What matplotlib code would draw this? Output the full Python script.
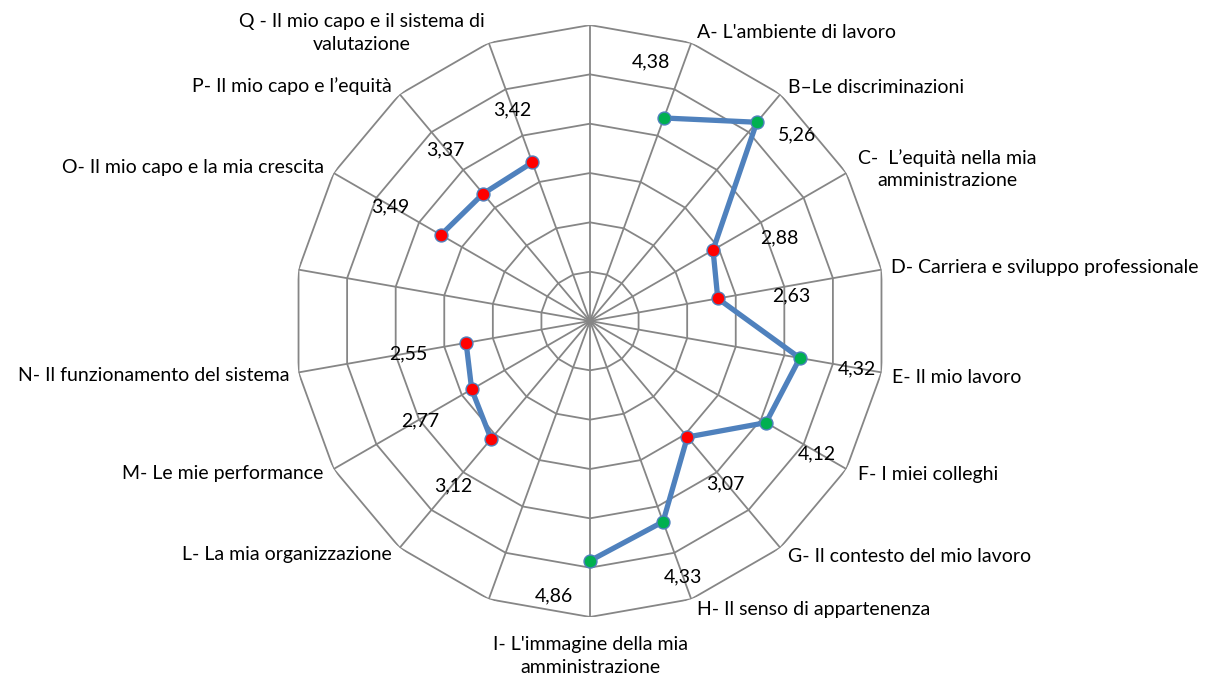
import numpy as np
import matplotlib
matplotlib.use("Agg")
import matplotlib.pyplot as plt

plt.rcParams['font.family'] = ['Lato', 'DejaVu Sans']

# spokes at 20 degree steps; empty slots have no label and no value
categories = ["",
              "A- L'ambiente di lavoro",
              "B–Le discriminazioni",
              "C-  L’equità nella mia\namministrazione",
              "D- Carriera e sviluppo professionale",
              "E- Il mio lavoro",
              "F- I miei colleghi",
              "G- Il contesto del mio lavoro",
              "H- Il senso di appartenenza",
              "I- L'immagine della mia\namministrazione",
              "",
              "L- La mia organizzazione",
              "M- Le mie performance",
              "N- Il funzionamento del sistema",
              "",
              "O- Il mio capo e la mia crescita",
              "P- Il mio capo e l’equità",
              "Q - Il mio capo e il sistema di\nvalutazione"]
values = [np.nan, 4.38, 5.26, 2.88, 2.63, 4.32, 4.12, 3.07, 4.33, 4.86,
          np.nan, 3.12, 2.77, 2.55, np.nan, 3.49, 3.37, 3.42]
rings = [1, 2, 3, 4, 5, 6]
threshold = 4

# where each value label sits, relative to its point (pixels)
value_offsets = [None, (-13, 56), (40, -13), (66, 12), (73, 3), (57, -11), (51, -31),
                 (38, -47), (20, -55), (-36, -35), None, (-38, -47), (-51, -32),
                 (-58, -11), None, (-51, 28), (-38, 44), (-20, 53)]
# category labels, relative to the outer vertex of their spoke
cat_offsets = [None, (6, 10), (8, 7), (12, 4), (10, 2), (11, -5), (12, -5), (8, -9),
               (6, -10), (0, -39), None, (-8, -7), (-10, -4), (-9, -3), None,
               (-10, 6), (-8, 8), (-4, 10)]

n = len(categories)
theta = np.arange(n) * 2 * np.pi / n
rmax = rings[-1]
grid_color = '#868686'
line_color = '#4F81BD'
fs = 14

fig = plt.figure(figsize=(12.14, 6.82), dpi=100)
ax = fig.add_axes([0.2422, 0.0953, 0.4876, 0.868], projection='polar')
ax.set_theta_zero_location('N')
ax.set_theta_direction(-1)
ax.set_ylim(0, rmax)
ax.grid(False)
ax.set_xticks([])
ax.set_yticks([])
ax.spines['polar'].set_visible(False)
ax.patch.set_visible(False)

# polygon rings and spokes
closed = np.append(theta, theta[0])
for r in rings:
    ax.plot(closed, [r] * len(closed), color=grid_color, lw=1.3, zorder=1)
for t in theta:
    ax.plot([t, t], [0, rmax], color=grid_color, lw=1.3, zorder=1)

ax.plot(theta, values, color=line_color, lw=3.8, zorder=2, solid_capstyle='round')
for t, v in zip(theta, values):
    if np.isnan(v):
        continue
    fc = '#00B050' if v > threshold else '#FF0000'
    ax.plot(t, v, 'o', ms=9.3, mfc=fc, mec=line_color, mew=1.0, zorder=3, clip_on=False)

for t, v, off in zip(theta, values, value_offsets):
    if np.isnan(v):
        continue
    ax.annotate(f"{v:.2f}".replace('.', ','), (t, v), xytext=off, textcoords='offset pixels',
                ha='center', va='center', fontsize=fs, annotation_clip=False)

for t, label, off in zip(theta, categories, cat_offsets):
    if not label:
        continue
    deg = np.degrees(t)
    if deg == 180:
        ha = 'center'
    elif deg < 180:
        ha = 'left'
    else:
        ha = 'right'
    ax.annotate(label, (t, rmax), xytext=off, textcoords='offset pixels',
                ha=ha, va='center', multialignment='center', fontsize=fs,
                linespacing=1.42, annotation_clip=False)

fig.savefig("out.png", dpi=100)
